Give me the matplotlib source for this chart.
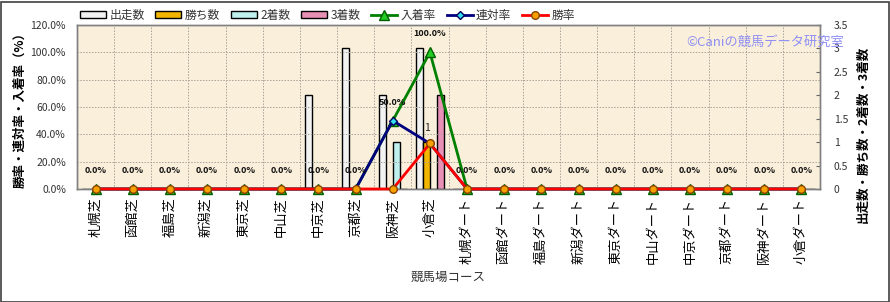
import numpy as np
import matplotlib
matplotlib.use("Agg")
import matplotlib.pyplot as plt
from matplotlib.patches import Rectangle

plt.rcParams['font.family'] = ['Noto Sans CJK JP', 'DejaVu Sans']

# data
courses = ["札幌芝", "函館芝", "福島芝", "新潟芝", "東京芝", "中山芝", "中京芝", "京都芝", "阪神芝", "小倉芝",
           "札幌ダート", "函館ダート", "福島ダート", "新潟ダート", "東京ダート", "中山ダート", "中京ダート",
           "京都ダート", "阪神ダート", "小倉ダート"]
starts = [0, 0, 0, 0, 0, 0, 2, 3, 2, 3, 0, 0, 0, 0, 0, 0, 0, 0, 0, 0]
wins = [0, 0, 0, 0, 0, 0, 0, 0, 0, 1, 0, 0, 0, 0, 0, 0, 0, 0, 0, 0]
seconds = [0, 0, 0, 0, 0, 0, 0, 0, 1, 0, 0, 0, 0, 0, 0, 0, 0, 0, 0, 0]
thirds = [0, 0, 0, 0, 0, 0, 0, 0, 0, 2, 0, 0, 0, 0, 0, 0, 0, 0, 0, 0]
place_rate = [0, 0, 0, 0, 0, 0, 0, 0, 50.0, 100.0, 0, 0, 0, 0, 0, 0, 0, 0, 0, 0]
quinella_rate = [0, 0, 0, 0, 0, 0, 0, 0, 50.0, 33.3, 0, 0, 0, 0, 0, 0, 0, 0, 0, 0]
win_rate = [0, 0, 0, 0, 0, 0, 0, 0, 0, 33.3, 0, 0, 0, 0, 0, 0, 0, 0, 0, 0]

W, H = 890, 302
fig = plt.figure(figsize=(W / 100, H / 100), dpi=100)
fig.patch.set_facecolor('white')
fig.add_artist(Rectangle((0.5 / W, 0.5 / H), 1 - 2 / W, 1 - 2 / H, transform=fig.transFigure,
                         fill=False, edgecolor='#404040', linewidth=1.2))

L, R, T, B = 77, 820, 25, 189
ax2 = fig.add_axes([L / W, 1 - B / H, (R - L) / W, (B - T) / H])  # right axis: counts (bars)
ax = ax2.twinx()
ax.yaxis.tick_left()
ax.yaxis.set_label_position('left')
ax2.yaxis.tick_right()
ax2.set_zorder(0)
ax.set_zorder(1)
ax.patch.set_visible(False)
ax2.set_facecolor('#F9EFDA')

x = np.arange(len(courses))
bw = 0.19
bar_specs = [(starts, '#F2F2F2', '出走数', -0.28),
             (wins, '#F2B500', '勝ち数', -0.09),
             (seconds, '#BFF0EE', '2着数', 0.09),
             (thirds, '#E890B6', '3着数', 0.28)]
bars = []
for vals, col, lab, off in bar_specs:
    b = ax2.bar(x + off, vals, bw, color=col, edgecolor='black', linewidth=1.0, label=lab, zorder=3)
    bars.append(b)
ax2.text(x[9] - 0.09, wins[9] + 0.2, "1", ha='center', va='bottom', fontsize=7.5, color='#222222', zorder=5)

ax2.set_ylim(0, 3.5)
ax2.set_yticks(np.arange(0, 3.51, 0.5))
ax2.set_yticklabels(["0", "0.5", "1", "1.5", "2", "2.5", "3", "3.5"])
ax2.set_xlim(-0.5, len(courses) - 0.5)

# lines
l1, = ax.plot(x, place_rate, color='#008000', lw=2, marker='^', ms=6.5, mfc='#22CC22', mec='#006000',
              label='入着率', zorder=3, clip_on=False)
l2, = ax.plot(x, quinella_rate, color='#000080', lw=2, marker='D', ms=4.5, mfc='#33DDEE', mec='#000060',
              label='連対率', zorder=4, clip_on=False)
l3, = ax.plot(x, win_rate, color='#FF0000', lw=2, marker='o', ms=5.5, mfc='#F7A000', mec='#884400',
              label='勝率', zorder=5, clip_on=False)
for xi, v in zip(x, place_rate):
    ax.annotate(f"{v:.1f}%", (xi, v), xytext=(0, 10), textcoords='offset points', ha='center',
                va='bottom', fontsize=6.5, fontweight='bold', color='#111111', zorder=6)

ax.set_ylim(0, 120)
ax.set_yticks(np.arange(0, 121, 20))
ax.set_yticklabels([f"{t:.1f}%" for t in np.arange(0, 121, 20)])

# grid: horizontal per left axis, vertical at category boundaries
for gy in np.arange(20, 121, 20):
    ax.axhline(gy, color='#A8A298', lw=0.7, ls=(0, (1.5, 1.5)), zorder=1)
for gx in np.arange(0.5, len(courses) - 1, 1):
    ax.axvline(gx, color='#A8A298', lw=0.7, ls=(0, (1.5, 1.5)), zorder=1)

ax2.set_xticks(x)
ax2.set_xticklabels(courses, rotation=90, fontsize=9.5, color='black')
ax2.tick_params(axis='x', length=0, pad=6)
ax2.tick_params(axis='y', labelsize=7.5, labelcolor='#333333', length=3, direction='in', color='#666666', pad=10)
ax.tick_params(axis='y', labelsize=7.5, labelcolor='#333333', length=0, pad=8)
for a in (ax, ax2):
    for s in a.spines.values():
        s.set_color('#808080')
        s.set_linewidth(1.0)

ax2.set_xlabel("競馬場コース", fontsize=9, color='#333333', labelpad=5)
fig.text(20 / W, 1 - 107 / H, "勝率・連対率・入着率（%）", rotation=90, ha='center', va='center',
         fontsize=9, fontweight='bold')
fig.text(863 / W, 1 - 134 / H, "出走数・勝ち数・2着数・3着数", rotation=90, ha='center', va='center',
         fontsize=9, fontweight='bold')
fig.text(686 / W, 1 - 42 / H, "©Caniの競馬データ研究室", ha='left', va='center', fontsize=9.5,
         color='#8F8FF5', zorder=10)

handles = bars + [l1, l2, l3]
labels = ['出走数', '勝ち数', '2着数', '3着数', '入着率', '連対率', '勝率']
fig.legend(handles, labels, loc='center left', bbox_to_anchor=(80 / W, 1 - 15 / H), ncol=7,
           frameon=False, fontsize=8.5, handlelength=2.2, handleheight=0.5, handletextpad=0.3,
           columnspacing=0.9, borderpad=0, borderaxespad=0, labelcolor='#333333')

fig.savefig("out.png", dpi=100)
